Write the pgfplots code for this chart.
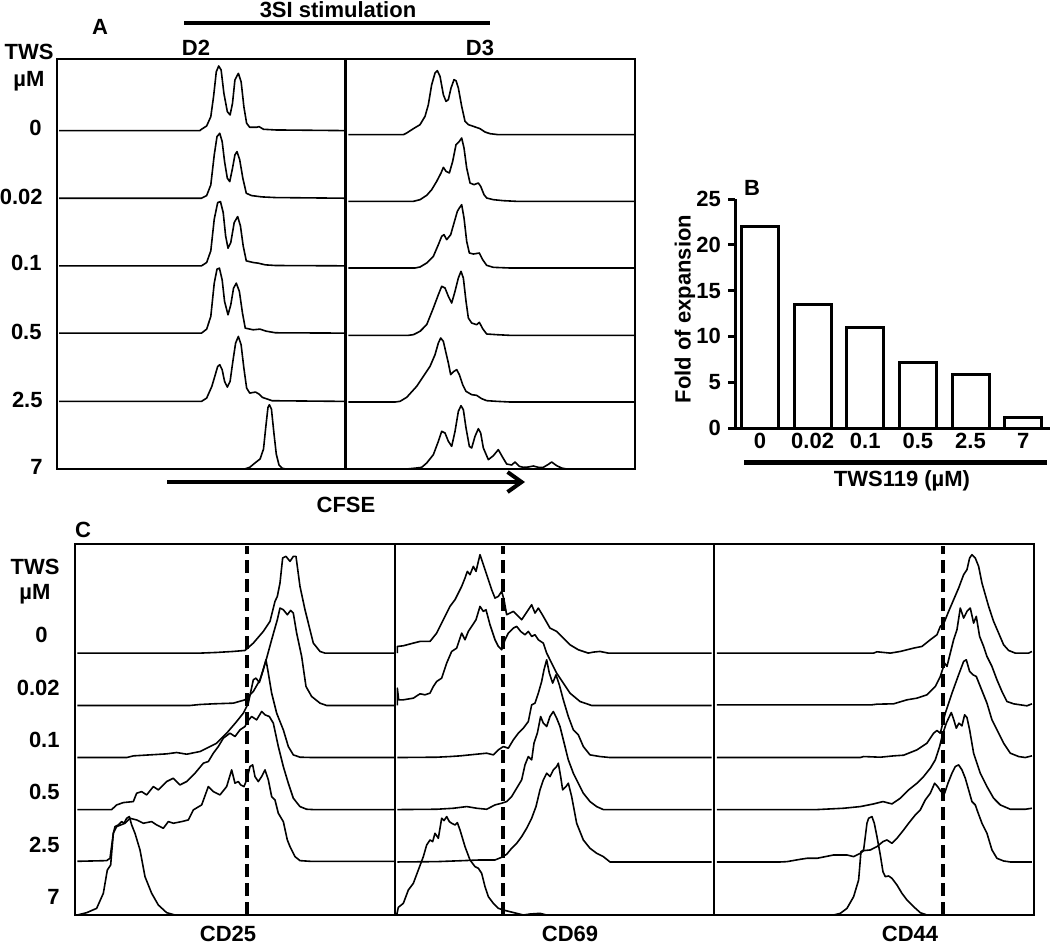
\documentclass[border=0pt]{standalone}
\usepackage{fontspec}
\setmainfont{Liberation Sans}
\usepackage{pgfplots}
\pgfplotsset{compat=1.18}
\usetikzlibrary{arrows.meta}
\pgfplotsset{
  hist/.style={black, line width=0.8pt, no markers, line join=round},
  gate/.style={black, line width=2pt, dash pattern=on 6.5pt off 3pt, no markers},
  panel/.style={scale only axis, xtick=\empty, ytick=\empty, axis line style={line width=1.1pt}, ymin=0},
  off/.style={y filter/.expression={y+#1}},
}
\begin{document}
\begin{tikzpicture}[font=\bfseries\fontsize{11}{13}\selectfont]
% ---------------- Panel A : D2 ----------------
\begin{axis}[panel, at={(28.4pt,-29.5pt)}, anchor=north west, width=144.35pt, height=205pt,
  xmin=165, xmax=1003, ymax=1231]
\addplot[hist,off=1016] coordinates {(172,0)(580,0)(585,4)(600,14)(612,42)(620,102)(628,177)(635,194)(642,182)(650,112)(660,57)(668,47)(675,82)(682,152)(692,172)(700,147)(708,72)(716,22)(725,10)(745,10)(752,12)(765,4)(800,2)(1003,0)};
\addplot[hist,off=813] coordinates {(172,0)(585,0)(600,8)(612,40)(622,130)(630,185)(638,195)(645,170)(652,110)(660,60)(667,50)(675,90)(682,130)(688,140)(696,115)(705,60)(715,15)(730,8)(760,4)(800,2)(1003,0)};
\addplot[hist,off=610] coordinates {(172,0)(585,0)(600,10)(612,45)(622,140)(632,190)(640,193)(648,160)(655,90)(662,53)(670,70)(680,130)(690,148)(698,120)(706,60)(715,15)(735,10)(750,8)(770,3)(800,1)(1003,0)};
\addplot[hist,off=408] coordinates {(172,0)(585,0)(600,12)(612,50)(622,150)(630,192)(637,195)(645,160)(652,95)(662,55)(670,85)(678,135)(686,150)(695,125)(704,60)(712,15)(735,10)(755,12)(772,6)(800,1)(1003,0)};
\addplot[hist,off=203] coordinates {(172,0)(585,0)(600,10)(615,45)(625,80)(632,105)(638,110)(645,95)(652,60)(660,43)(668,60)(676,120)(684,175)(692,195)(700,170)(708,100)(716,40)(725,25)(742,28)(752,22)(762,12)(790,2)(1003,0)};
\addplot[hist,off=0] coordinates {(172,0)(710,0)(725,5)(740,18)(755,30)(765,60)(772,130)(778,185)(782,193)(788,180)(795,110)(802,45)(810,12)(820,2)(830,0)(1003,0)};
\end{axis}
% ---------------- Panel A : D3 ----------------
\begin{axis}[panel, at={(172.85pt,-29.5pt)}, anchor=north west, width=144.65pt, height=205pt,
  xmin=47, xmax=915, ymax=1230]
\addplot[hist,off=1003] coordinates {(55,0)(220,0)(230,5)(250,18)(270,30)(285,55)(295,90)(305,150)(315,185)(322,192)(330,175)(340,120)(348,100)(355,105)(363,140)(372,165)(378,162)(385,140)(395,85)(405,40)(415,30)(430,25)(450,18)(465,8)(480,3)(505,0)(915,0)};
\addplot[hist,off=803] coordinates {(55,0)(250,0)(270,5)(290,18)(305,35)(320,60)(333,85)(340,102)(348,90)(358,85)(368,120)(378,170)(388,180)(395,190)(402,160)(410,100)(420,55)(432,50)(445,55)(452,45)(462,20)(470,10)(490,5)(520,2)(560,0)(915,0)};
\addplot[hist,off=603] coordinates {(55,0)(255,0)(270,3)(290,15)(310,35)(325,70)(335,95)(342,100)(350,85)(362,100)(372,135)(382,170)(388,180)(395,190)(402,150)(410,80)(418,45)(430,42)(448,45)(458,25)(470,8)(490,2)(540,0)(915,0)};
\addplot[hist,off=401] coordinates {(55,0)(235,0)(250,2)(270,12)(290,32)(310,82)(325,122)(335,147)(345,142)(355,117)(365,97)(375,132)(385,172)(393,192)(400,172)(408,102)(415,52)(425,37)(440,32)(448,39)(458,20)(470,4)(500,2)(540,0)(915,0)};
\addplot[hist,off=201] coordinates {(55,0)(195,0)(210,2)(230,14)(260,47)(280,77)(300,107)(315,142)(325,177)(332,192)(340,182)(348,147)(355,117)(362,82)(372,92)(380,97)(388,82)(398,52)(408,32)(425,22)(440,20)(455,10)(470,4)(500,2)(540,0)(915,0)};
\addplot[hist,off=0] coordinates {(55,0)(230,0)(260,3)(275,5)(290,18)(310,43)(325,83)(335,113)(345,108)(355,83)(365,68)(375,113)(385,173)(393,190)(400,178)(408,123)(418,68)(425,63)(435,98)(445,121)(452,108)(460,63)(475,28)(490,40)(505,58)(518,35)(530,15)(545,12)(555,21)(568,8)(580,5)(595,6)(610,9)(625,5)(640,5)(655,14)(665,21)(680,10)(695,3)(710,0)(915,0)};
\end{axis}
% ---------------- Panel B ----------------
\begin{axis}[at={(367.5pt,-214pt)}, anchor=south west, scale only axis, width=157.5pt, height=114.5pt,
  xmin=-0.475, xmax=5.51, ymin=0, ymax=25,
  axis x line=bottom, axis y line=left, axis line style={line width=1.5pt,-},
  xtick={0,1,2,3,4,5}, xticklabels={0,0.02,0.1,0.5,2.5,7}, x tick style={draw=none},
  ytick={0,5,10,15,20,25}, yticklabels={0,5,10,15,20,25},
  tick align=outside, major tick length=3.5pt, y tick style={line width=1.5pt,black},
  ticklabel style={font=\bfseries\fontsize{11}{13}\selectfont},
  xticklabel style={yshift=4.5pt},
  ybar, bar width=18.5pt]
\addplot[ybar, fill=white, draw=black, line width=1.5pt] coordinates {(0,22)(1,13.5)(2,11)(3,7.2)(4,5.8)(5,1.2)};
\end{axis}
% ---------------- Panel C : CD25 ----------------
\begin{axis}[panel, at={(37.5pt,-272pt)}, anchor=north west, width=160pt, height=185.5pt,
  xmin=225, xmax=1185, ymax=1112]
\addplot[hist,off=785] coordinates {(232,0)(600,0)(650,2)(700,5)(735,8)(760,30)(790,65)(810,95)(825,155)(832,170)(840,210)(848,285)(858,290)(870,275)(880,290)(888,290)(900,200)(915,130)(930,70)(940,30)(960,5)(975,0)(1185,0)};
\addplot[hist,off=628] coordinates {(232,0)(570,0)(600,3)(640,5)(700,7)(735,17)(760,42)(780,77)(800,142)(815,197)(822,222)(832,257)(840,292)(850,287)(862,272)(872,285)(880,277)(890,217)(905,147)(918,57)(935,27)(960,7)(980,0)(1185,0)};
\addplot[hist,off=472] coordinates {(232,0)(380,0)(400,5)(450,8)(500,11)(530,15)(560,10)(600,18)(630,33)(650,43)(680,73)(710,108)(730,133)(745,163)(760,233)(768,238)(778,225)(790,263)(798,293)(805,253)(815,193)(830,133)(850,83)(865,33)(880,8)(900,1)(940,0)(1185,0)};
\addplot[hist,off=316] coordinates {(232,0)(335,0)(350,14)(370,21)(400,24)(410,49)(425,54)(440,44)(460,69)(475,59)(500,84)(520,94)(540,74)(560,84)(585,109)(610,139)(625,144)(640,169)(655,189)(670,214)(690,229)(705,219)(720,239)(735,249)(742,264)(755,279)(770,269)(785,294)(795,284)(808,279)(820,259)(835,189)(850,129)(865,79)(880,34)(900,9)(920,1)(940,0)(1185,0)};
\addplot[hist,off=161] coordinates {(232,0)(320,2)(330,9)(340,84)(350,104)(375,114)(390,129)(410,124)(430,114)(455,119)(470,109)(490,99)(505,119)(520,114)(545,119)(565,124)(580,154)(605,169)(625,224)(640,209)(660,199)(680,224)(695,274)(705,234)(715,239)(722,229)(732,224)(740,244)(750,284)(758,289)(765,254)(775,239)(785,254)(795,274)(805,244)(815,194)(825,184)(835,144)(850,119)(862,64)(870,44)(885,14)(900,2)(930,0)(1185,0)};
\addplot[hist,off=0] coordinates {(232,0)(260,7)(290,20)(310,65)(322,135)(332,150)(340,245)(345,265)(355,270)(365,280)(372,275)(380,290)(388,295)(395,270)(405,245)(420,195)(435,115)(455,65)(475,30)(500,7)(525,0)(1185,0)};
\addplot[gate] coordinates {(742,0)(742,1105)};
\end{axis}
% ---------------- Panel C : CD69 ----------------
\begin{axis}[panel, at={(197.5pt,-272pt)}, anchor=north west, width=159.65pt, height=185.5pt,
  xmin=75, xmax=1033, ymax=1112]
\addplot[hist,off=785] coordinates {(82,0)(82,20)(100,22)(130,30)(150,35)(180,35)(200,60)(220,100)(240,140)(255,160)(265,180)(275,200)(285,225)(292,245)(300,235)(310,260)(318,245)(330,295)(340,265)(355,220)(365,190)(375,165)(385,170)(395,185)(402,160)(410,115)(420,120)(430,125)(440,115)(455,100)(465,115)(475,130)(485,145)(495,120)(505,135)(520,110)(540,75)(560,65)(580,45)(600,25)(625,10)(655,0)(670,3)(690,5)(715,0)(1025,0)};
\addplot[hist,off=628] coordinates {(82,0)(82,52)(86,17)(100,17)(130,22)(150,35)(165,32)(180,37)(190,57)(200,72)(215,82)(230,127)(245,162)(260,172)(275,217)(285,197)(295,222)(305,237)(318,257)(330,297)(340,282)(348,287)(360,242)(375,197)(385,177)(395,167)(405,197)(415,217)(430,232)(440,237)(452,222)(465,212)(475,222)(485,207)(495,212)(505,197)(520,187)(530,157)(545,127)(560,97)(580,67)(600,37)(630,12)(665,0)(1025,0)};
\addplot[hist,off=472] coordinates {(82,0)(200,1)(240,3)(270,5)(300,8)(330,11)(350,13)(370,8)(385,23)(400,33)(415,28)(430,53)(445,73)(460,88)(475,108)(485,158)(495,163)(505,193)(515,228)(522,263)(530,293)(538,253)(548,223)(558,248)(568,218)(580,173)(595,123)(610,83)(625,68)(640,33)(660,8)(690,3)(720,0)(1025,0)};
\addplot[hist,off=316] coordinates {(82,0)(200,1)(250,4)(290,9)(320,4)(350,1)(375,14)(395,19)(410,24)(425,39)(440,64)(455,89)(465,134)(475,159)(485,149)(492,199)(502,229)(512,279)(520,259)(530,249)(540,279)(550,294)(560,274)(570,249)(580,209)(595,149)(610,109)(625,79)(640,49)(660,24)(680,9)(700,0)(1025,0)};
\addplot[hist,off=159] coordinates {(82,0)(200,1)(280,4)(330,6)(375,6)(395,14)(410,23)(425,41)(440,56)(455,76)(470,101)(485,131)(498,166)(510,216)(520,246)(530,266)(540,256)(550,276)(560,286)(565,296)(572,256)(578,216)(588,226)(595,236)(605,196)(620,116)(640,66)(660,41)(680,26)(700,16)(720,0)(1025,0)};
\addplot[hist,off=0] coordinates {(80,0)(85,23)(100,35)(115,75)(130,95)(145,135)(160,175)(170,210)(180,225)(188,220)(195,245)(205,230)(215,290)(222,283)(230,295)(238,280)(245,275)(255,270)(262,277)(270,255)(285,205)(300,165)(315,145)(325,140)(335,125)(345,85)(355,55)(370,35)(385,20)(400,15)(420,10)(440,5)(460,0)(480,3)(510,5)(530,0)(1025,0)};
\addplot[gate] coordinates {(400,0)(400,1105)};
\end{axis}
% ---------------- Panel C : CD44 ----------------
\begin{axis}[panel, at={(357.15pt,-272pt)}, anchor=north west, width=159.65pt, height=185.5pt,
  xmin=42, xmax=1000, ymax=1112]
\addplot[hist,off=785] coordinates {(50,0)(520,0)(530,4)(570,0)(600,5)(640,15)(665,20)(690,40)(710,55)(720,80)(730,88)(745,125)(760,160)(775,195)(790,235)(800,250)(808,285)(815,295)(825,285)(835,260)(845,210)(855,175)(865,140)(880,95)(895,60)(910,25)(925,8)(945,0)(985,0)(995,5)};
\addplot[hist,off=630] coordinates {(50,0)(515,0)(530,2)(580,3)(620,15)(650,20)(680,30)(705,55)(720,85)(733,125)(740,115)(750,155)(760,195)(770,225)(780,290)(790,260)(800,280)(810,290)(820,245)(828,265)(838,205)(850,175)(860,145)(875,115)(890,75)(905,40)(920,10)(940,3)(960,0)(980,-3)(995,3)};
\addplot[hist,off=472] coordinates {(50,0)(480,0)(490,3)(540,1)(580,5)(610,7)(650,23)(680,43)(700,73)(710,81)(720,73)(735,133)(755,193)(775,248)(790,288)(798,293)(808,258)(818,248)(828,243)(838,218)(850,188)(860,163)(875,113)(890,83)(910,43)(930,13)(955,3)(975,0)(995,5)};
\addplot[hist,off=316] coordinates {(50,0)(350,0)(430,4)(480,9)(520,17)(548,24)(575,17)(600,34)(625,59)(650,79)(670,99)(690,124)(705,149)(718,189)(728,229)(738,259)(745,274)(753,291)(760,271)(768,244)(776,259)(785,251)(793,284)(800,276)(808,239)(820,169)(840,109)(860,69)(880,34)(900,14)(930,1)(975,1)(995,4)};
\addplot[hist,off=159] coordinates {(50,0)(240,0)(260,1)(300,8)(320,11)(350,11)(400,21)(440,21)(460,16)(480,26)(490,34)(510,36)(530,46)(548,61)(560,66)(575,56)(590,71)(610,96)(625,116)(645,141)(660,156)(675,186)(690,206)(703,236)(712,226)(722,211)(733,206)(743,236)(755,266)(765,286)(775,291)(785,276)(795,251)(805,216)(815,181)(825,171)(832,151)(845,116)(860,86)(875,36)(890,11)(910,3)(930,0)(995,0)};
\addplot[hist,off=0] coordinates {(50,0)(400,0)(420,5)(440,20)(460,55)(475,105)(482,190)(490,195)(500,275)(505,290)(515,295)(522,275)(530,235)(540,180)(548,130)(555,115)(565,117)(575,110)(590,90)(605,65)(620,45)(640,25)(660,7)(680,0)(1000,0)};
\addplot[gate] coordinates {(727,0)(727,1105)};
\end{axis}
% ---------------- annotations ----------------
\begin{scope}[x=0.5pt, y=-0.5pt, every node/.append style={inner sep=0pt}]
 % panel A
 \node at (338,10) {3SI stimulation};
 \draw[line width=2.3pt] (184,23) -- (490,23);
 \node at (100,27) {A};
 \node at (196,48) {D2};
 \node at (480,48) {D3};
 \node at (29,52) {TWS};
 \node at (29,81) {µM};
 \begin{scope}[every node/.append style={anchor=east}]
  \node at (42,128) {0};
  \node at (43,197) {0.02};
  \node at (42,263) {0.1};
  \node at (42,332) {0.5};
  \node at (43,400) {2.5};
  \node at (43,467) {7};
 \end{scope}
 \draw[line width=2pt, -{Straight Barb[length=7pt,width=10pt]}] (167,482) -- (525,482);
 \node at (346,505) {CFSE};
 % panel B
 \node at (752,188) {B};
 \draw[line width=2.5pt] (744,462) -- (1047,462);
 \node at (902,481) {TWS119 (µM)};
 \node[rotate=90] at (685,309) {Fold of expansion};
 % panel C
 \node at (83,530) {C};
 \node at (35,567) {TWS};
 \node at (35,594) {µM};
 \begin{scope}[every node/.append style={anchor=east}]
  \node at (48,635) {0};
  \node at (60,688) {0.02};
  \node at (60,740) {0.1};
  \node at (60,792) {0.5};
  \node at (60,845) {2.5};
  \node at (60,897) {7};
 \end{scope}
 \node at (228,934) {CD25};
 \node at (570,934) {CD69};
 \node at (910,934) {CD44};
\end{scope}
\pgfresetboundingbox
\useasboundingbox (0,0) rectangle (525pt,-472pt);
\end{tikzpicture}
\end{document}
